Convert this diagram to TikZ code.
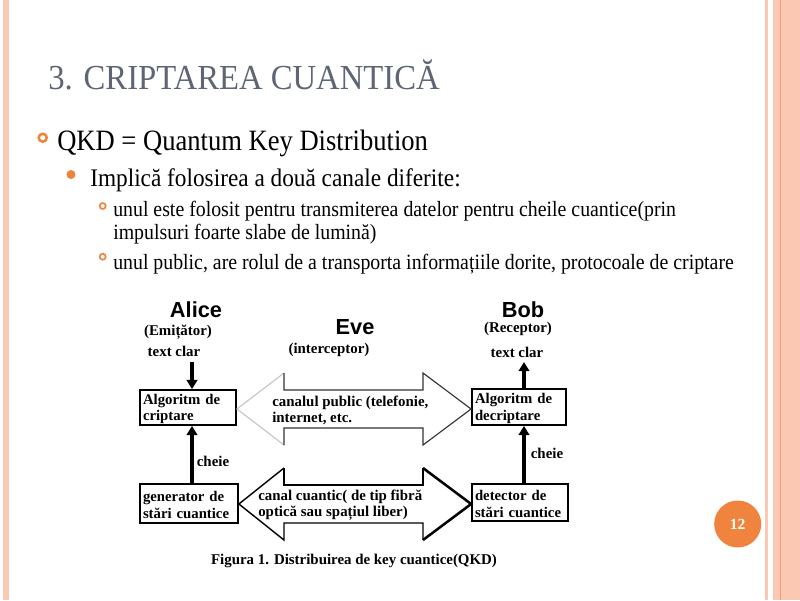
\documentclass[tikz,border=0pt]{standalone}
\usepackage{tikz}
\usetikzlibrary{positioning,arrows.meta}
\usepackage{fontspec}
\setmainfont{Liberation Serif}
\newfontfamily\titlefont[FakeStretch=0.93]{Liberation Serif}
\newfontfamily\onefont[FakeStretch=0.9]{Liberation Serif}
\newfontfamily\twofont[FakeStretch=0.92]{Liberation Serif}
\newfontfamily\threefont[FakeStretch=0.91]{Liberation Serif}
\newfontfamily\headfont{Liberation Sans}
\definecolor{slidegray}{HTML}{5E6575}
\definecolor{bulorange}{HTML}{F0833E}
\definecolor{stripe}{HTML}{FBC8B3}
\definecolor{stripeline}{HTML}{F2A07C}

\begin{document}
\begin{tikzpicture}[x=0.25mm,y=-0.25mm,>=stealth,
	txt/.style={inner sep=0pt, anchor=base west},
	who/.style={font=\headfont\bfseries\fontsize{15.5}{17}\selectfont, inner sep=0pt},
	small/.style={font=\bfseries\fontsize{10.6}{11.5}\selectfont, inner sep=0pt},
	box/.style={draw, line width=1.3pt, align=left, inner sep=0pt, text height=3.3mm,
		font=\bfseries\fontsize{10.5}{12}\selectfont},
	flow/.style={line width=2.2pt, -{Triangle[width=7.5pt,length=6.5pt]}},
	ring/.style={draw=bulorange}]
	% page and border
	\useasboundingbox (0,0) rectangle (800,600);
	\fill[white] (0,0) rectangle (800,600);
	\fill[stripe] (3,0) rectangle (9,600);
	\fill[stripe] (765,0) rectangle (768,600);
	\fill[stripe] (773,0) rectangle (800,600);
	\fill[stripeline] (779.5,0) rectangle (781.3,600);
	% title and bullets
	\node[txt, text=slidegray, font=\titlefont\fontsize{25}{27}\selectfont] (title) at (48,89) {3. CRIPTAREA CUANTICĂ};
	\draw[ring, line width=1.8pt] (42.7,137.7) circle (4);
	\node[txt, font=\onefont\fontsize{21}{23}\selectfont] (qkd) at (57,150) {QKD = Quantum Key Distribution};
	\fill[bulorange] (71,174.5) circle (4.5);
	\node[txt, font=\twofont\fontsize{18}{20}\selectfont] (two) at (90,186) {Implică folosirea a două canale diferite:};
	\draw[ring, line width=1.2pt] (102.7,206) circle (3);
	\node[txt, font=\threefont\fontsize{15.5}{17}\selectfont] (one) at (113,216) {unul este folosit pentru transmiterea datelor pentru cheile cuantice(prin};
	\node[txt, font=\threefont\fontsize{15.5}{17}\selectfont] (onecont) at (113,239) {impulsuri foarte slabe de lumină)};
	\draw[ring, line width=1.2pt] (102.7,256.7) circle (3);
	\node[txt, font=\threefont\fontsize{15.5}{17}\selectfont] (pub) at (113,269) {unul public, are rolul de a transporta informațiile dorite, protocoale de criptare};
	% parties
	\node[who] (alice) at (196,310) {Alice};
	\node[small] (emit) at (178,332) {(Emițător)};
	\node[small] (aclar) at (174,351) {text clar};
	\node[who] (eve) at (355,327) {Eve};
	\node[small] (inter) at (329,350) {(interceptor)};
	\node[who] (bob) at (523,310) {Bob};
	\node[small] (recv) at (518,329) {(Receptor)};
	\node[small] (bclar) at (517,352) {text clar};
	% boxes
	\node[box, minimum width=24mm, minimum height=8.75mm, text width=22.5mm] (crypt) at (188,407.5) {Algoritm de\\criptare};
	\node[box, minimum width=24.5mm, minimum height=9.75mm, text width=23mm] (gen) at (189,503.5) {generator de\\stări cuantice};
	\node[box, minimum width=23.5mm, minimum height=9mm, text width=22mm] (decr) at (519,407) {Algoritm de\\decriptare};
	\node[box, minimum width=24mm, minimum height=9.25mm, text width=22.5mm] (det) at (520,502.5) {detector de\\stări cuantice};
	% channels
	\draw[gray!45, line width=0.8pt] (284,373) -- (crypt.east |- 0,409) -- (284,445);
	\draw[black!80, line width=0.8pt] (284,373) -- (284,390) -- (423,390) -- (423,373) -- (decr.west |- 0,409)
		-- (423,445) -- (423,428) -- (284,428) -- (284,445);
	\draw[line width=1pt] (284,468) -- (gen.east |- 0,504) -- (284,540) -- (284,523) -- (423,523) -- (423,540);
	\draw[line width=1pt] (284,468) -- (284,485) -- (423,485) -- (423,468);
	\draw[line width=1.8pt, line join=miter] (423,468) -- (det.west |- 0,504) -- (423,540);
	\node[small, align=left, anchor=west] (pubch) at (272,410) {canalul public (telefonie,\\internet, etc.};
	\node[small, align=left, anchor=west] (qch) at (258,505) {canal cuantic( de tip fibră\\optică sau spațiul liber)};
	% arrows
	\coordinate (ain) at (192,362);
	\coordinate (bout) at (524,362);
	\draw[flow] (ain) -- (ain |- crypt.north);
	\draw[flow] (ain |- gen.north) -- (ain |- crypt.south);
	\draw[flow] (bout |- decr.north) -- (bout);
	\draw[flow] (bout |- det.north) -- (bout |- decr.south);
	\node[small] (akey) at (213,461) {cheie};
	\node[small] (bkey) at (547,453) {cheie};
	\node[small] (cap) at (354,561) {Figura 1. Distribuirea de key cuantice(QKD)};
	% page number
	\fill[bulorange] (737.7,524) circle (23.5) node[white, font=\bfseries\fontsize{11}{13}\selectfont] (num) {12};
\end{tikzpicture}
\end{document}
